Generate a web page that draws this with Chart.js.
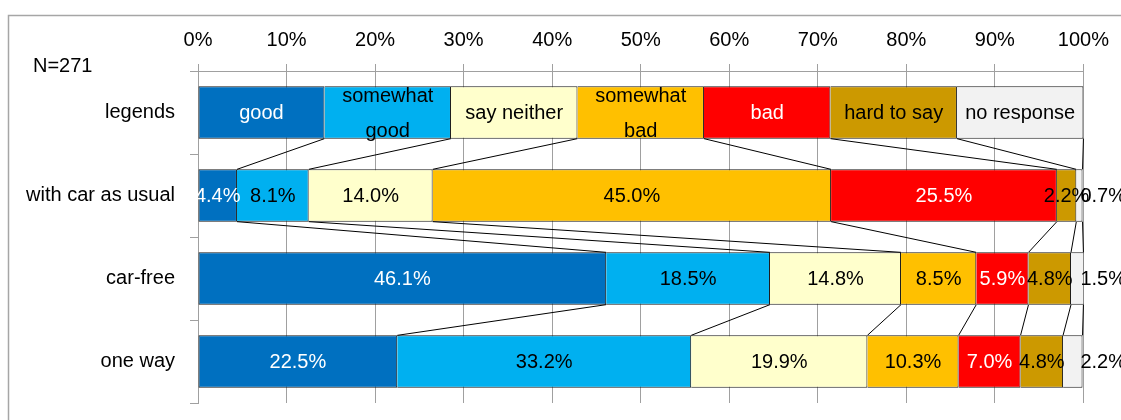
<!DOCTYPE html>
<html>
<head>
<meta charset="utf-8">
<script src="https://cdn.jsdelivr.net/npm/chart.js@4/dist/chart.umd.min.js"></script>
<style>
  html, body { margin: 0; padding: 0; background: #fff; }
  canvas { display: block; }
</style>
</head>
<body>
<canvas id="chart" width="1121" height="420"></canvas>
<script>
// Row labels (top to bottom) and answer categories
const categories = ['legends', 'with car as usual', 'car-free', 'one way'];
const seriesNames = ['good', 'somewhat good', 'say neither', 'somewhat bad', 'bad', 'hard to say', 'no response'];
const seriesLabelLines = [['good'], ['somewhat', 'good'], ['say neither'], ['somewhat', 'bad'], ['bad'], ['hard to say'], ['no response']];

// Shares in percent for each row
const legendRow = [14.2857, 14.2857, 14.2857, 14.2857, 14.2857, 14.2857, 14.2857];
const withCarAsUsual = [4.4, 8.1, 14.0, 45.0, 25.5, 2.2, 0.7];
const carFree = [46.1, 18.5, 14.8, 8.5, 5.9, 4.8, 1.5];
const oneWay = [22.5, 33.2, 19.9, 10.3, 7.0, 4.8, 2.2];

const percentTickStep = 10;
const sampleNote = 'N=271';

// Styling
const seriesColors = ['#0070C0', '#00B0F0', '#FFFFCC', '#FFC000', '#FF0000', '#CC9900', '#F2F2F2'];
const labelColors = ['#FFFFFF', '#000000', '#000000', '#000000', '#FFFFFF', '#000000', '#000000'];
const FONT_FAMILY = '"Liberation Sans", Arial, sans-serif';
const GRID_COLOR = '#A0A0A0';

const rows = [legendRow, withCarAsUsual, carFree, oneWay];

const datasets = seriesNames.map((name, d) => ({
  label: name,
  data: rows.map(r => r[d]),
  backgroundColor: seriesColors[d],
  borderColor: '#1A1A1A',
  borderWidth: { top: 1, right: 1, bottom: 1, left: d === 0 ? 1 : 0 },
  borderSkipped: false,
  categoryPercentage: 1.0,
  barPercentage: 0.63
}));

// Outer frame, sample size note
const framePlugin = {
  id: 'frame',
  beforeDraw(chart) {
    const ctx = chart.ctx;
    ctx.save();
    ctx.fillStyle = '#FFFFFF';
    ctx.fillRect(0, 0, chart.width, chart.height);
    ctx.strokeStyle = '#A6A6A6';
    ctx.lineWidth = 1.5;
    ctx.strokeRect(8.5, 15.5, chart.width + 50, chart.height + 50);
    ctx.restore();
  },
  afterDraw(chart) {
    const ctx = chart.ctx;
    ctx.save();
    ctx.font = '20px ' + FONT_FAMILY;
    ctx.fillStyle = '#000';
    ctx.textAlign = 'left';
    ctx.textBaseline = 'middle';
    ctx.fillText(sampleNote, 33, 66);
    ctx.restore();
  }
};

// Series lines joining segment edges between rows, then segment labels
const segmentPlugin = {
  id: 'segments',
  afterDatasetsDraw(chart) {
    const ctx = chart.ctx;
    const area = chart.chartArea;
    const metas = seriesNames.map((_, d) => chart.getDatasetMeta(d));

    ctx.save();
    ctx.strokeStyle = '#000';
    ctx.lineWidth = 1;
    for (let i = 0; i < categories.length - 1; i++) {
      metas.forEach(meta => {
        const a = meta.data[i].getProps(['x', 'y', 'height'], true);
        const b = meta.data[i + 1].getProps(['x', 'y', 'height'], true);
        const x1 = Math.min(a.x, area.right), x2 = Math.min(b.x, area.right);
        ctx.beginPath();
        ctx.moveTo(x1, a.y + a.height / 2);
        ctx.lineTo(x2, b.y - b.height / 2);
        ctx.stroke();
      });
    }
    ctx.restore();

    ctx.save();
    ctx.beginPath();
    ctx.rect(area.left, 0, chart.width - area.left, chart.height);
    ctx.clip();
    ctx.font = '20px ' + FONT_FAMILY;
    ctx.textBaseline = 'middle';
    metas.forEach((meta, d) => {
      ctx.fillStyle = labelColors[d];
      meta.data.forEach((el, i) => {
        const c = el.getCenterPoint(true);
        if (i === 0) {
          const lines = seriesLabelLines[d];
          ctx.textAlign = 'center';
          if (lines.length === 1) {
            ctx.fillText(lines[0], c.x, c.y + 1);
          } else {
            ctx.fillText(lines[0], c.x, c.y - 16);
            ctx.fillText(lines[1], c.x, c.y + 19);
          }
          return;
        }
        const text = rows[i][d].toFixed(1) + '%';
        if (d === seriesNames.length - 1) {
          ctx.textAlign = 'left';
          ctx.fillText(text, area.right - 3, c.y + 1);
        } else {
          ctx.textAlign = 'center';
          ctx.fillText(text, c.x, c.y + 1);
        }
      });
    });
    ctx.restore();
  }
};

new Chart(document.getElementById('chart'), {
  type: 'bar',
  data: { labels: categories, datasets },
  options: {
    indexAxis: 'y',
    responsive: false,
    animation: false,
    devicePixelRatio: 1,
    layout: { padding: { top: 0, left: 0, right: 37, bottom: 17 } },
    plugins: { legend: { display: false }, tooltip: { enabled: false } },
    scales: {
      x: {
        position: 'top',
        stacked: true,
        min: 0,
        max: 100,
        ticks: {
          stepSize: percentTickStep,
          callback: v => v + '%',
          color: '#000',
          font: { family: FONT_FAMILY, size: 20 },
          padding: 12,
          maxRotation: 0
        },
        grid: { color: GRID_COLOR, lineWidth: 1, tickLength: 7 },
        border: { color: GRID_COLOR },
        afterFit(scale) { scale.height = 71; }
      },
      y: {
        stacked: true,
        ticks: {
          color: '#000',
          font: { family: FONT_FAMILY, size: 20 },
          padding: 15
        },
        grid: { drawOnChartArea: false, color: GRID_COLOR, tickLength: 8, offset: true },
        border: { color: GRID_COLOR },
        afterFit(scale) {
          scale.width = 198;
          scale.paddingTop = 0;
          scale.paddingBottom = 0;
        }
      }
    }
  },
  plugins: [framePlugin, segmentPlugin]
});
</script>
</body>
</html>
